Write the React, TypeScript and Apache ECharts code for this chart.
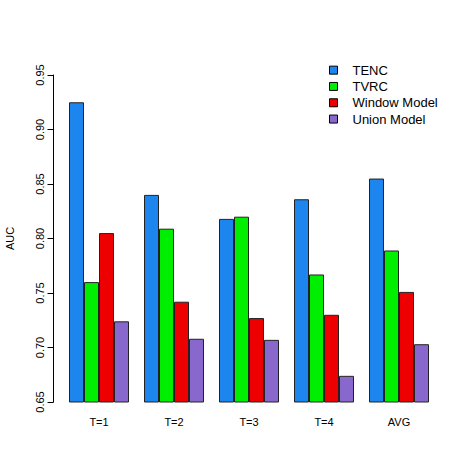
import React, { useEffect, useRef } from "react";
import * as echarts from "echarts";

const categories = ["T=1", "T=2", "T=3", "T=4", "AVG"];
const seriesNames = ["TENC", "TVRC", "Window Model", "Union Model"];
const tenc = [0.925, 0.84, 0.818, 0.836, 0.855];
const tvrc = [0.76, 0.809, 0.82, 0.767, 0.789];
const windowModel = [0.805, 0.742, 0.727, 0.730, 0.751];
const unionModel = [0.724, 0.708, 0.707, 0.674, 0.703];
const colors = ["#1C86EE", "#00EE00", "#EE0000", "#8968CD"];

export default function App() {
  const ref = useRef<HTMLDivElement>(null);
  useEffect(() => {
    if (!ref.current) return;
    const chart = echarts.init(ref.current, null, { renderer: "svg" });
    const data = [tenc, tvrc, windowModel, unionModel];
    chart.setOption({
      animation: false,
      backgroundColor: "#ffffff",
      textStyle: { fontFamily: "Liberation Sans, Arial, sans-serif" },
      grid: {
        left: 61.5,
        right: 34.5,
        top: 75,
        bottom: 69,
        containLabel: false,
        outerBoundsMode: "none",
      },
      legend: {
        orient: "vertical",
        left: 324,
        top: 58,
        itemWidth: 8,
        itemHeight: 8,
        itemGap: 2,
        icon: "rect",
        data: seriesNames,
        textStyle: { fontSize: 13, color: "#000", padding: [0, 0, 0, 10], lineHeight: 14.3 },
        itemStyle: { borderColor: "#000", borderWidth: 1 },
      },
      xAxis: {
        type: "category",
        data: categories,
        axisLine: { show: false },
        axisTick: { show: false },
        axisLabel: { color: "#000", fontSize: 11, margin: 14 },
      },
      yAxis: {
        type: "value",
        min: 0.65,
        max: 0.95,
        interval: 0.05,
        offset: 8,
        name: "AUC",
        nameLocation: "middle",
        nameGap: 38,
        nameTextStyle: { color: "#000", fontSize: 11 },
        splitLine: { show: false },
        axisLine: { show: true, lineStyle: { color: "#000", width: 1 } },
        axisTick: { show: true, length: 6, lineStyle: { color: "#000" } },
        axisLabel: {
          color: "#000",
          fontSize: 11,
          rotate: 90,
          margin: 8,
          formatter: (v: number) => v.toFixed(2),
        },
      },
      series: seriesNames.map((name, i) => ({
        name,
        type: "bar",
        data: data[i],
        barGap: "0%",
        barCategoryGap: "20%",
        itemStyle: { color: colors[i], borderColor: "#222", borderWidth: 1 },
      })),
    });
    return () => chart.dispose();
  }, []);
  return (
    <div
      ref={ref}
      style={{ position: "fixed", left: 0, top: 0, width: 471, height: 471 }}
    />
  );
}
